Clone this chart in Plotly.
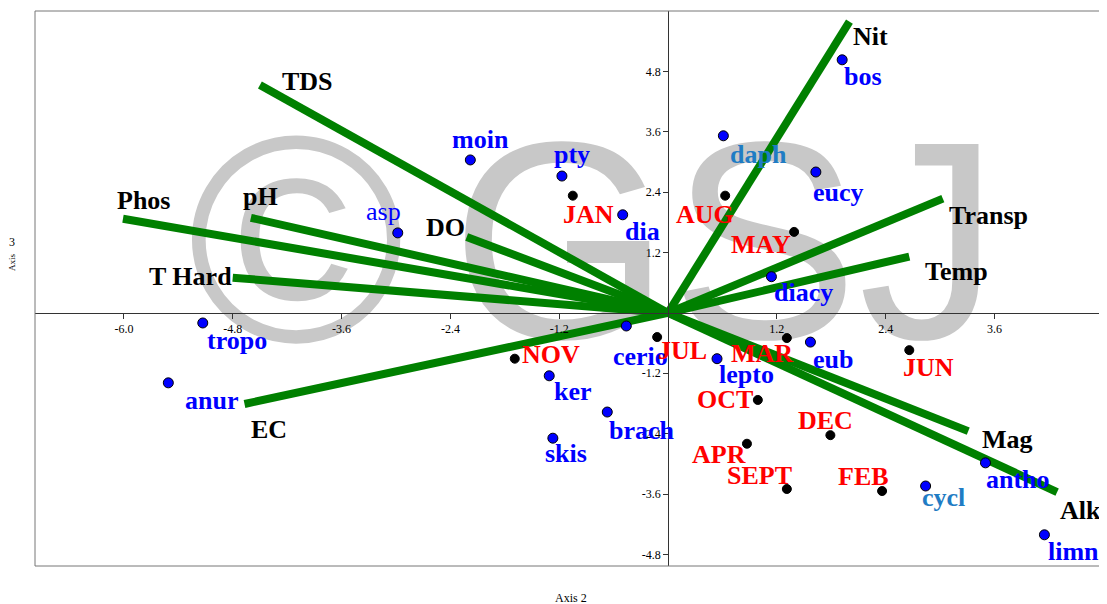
import plotly.graph_objects as go

# ---------------- data ----------------
species = ["tropo", "anur", "asp", "moin", "pty", "dia", "cerio", "ker", "brach", "skis",
           "lepto", "eub", "daph", "bos", "eucy", "diacy", "antho", "cycl", "limno"]
species_x = [-5.13, -5.51, -2.98, -2.18, -1.17, -0.50, -0.46, -1.31, -0.67, -1.27,
             0.54, 1.57, 0.61, 1.92, 1.63, 1.14, 3.50, 2.84, 4.15]
species_y = [-0.20, -1.39, 1.59, 3.04, 2.72, 1.95, -0.26, -1.25, -1.97, -2.49,
             -0.91, -0.58, 3.52, 5.03, 2.80, 0.72, -2.98, -3.44, -4.41]

sites = ["JAN", "AUG", "MAY", "NOV", "JUL", "MAR", "JUN", "OCT", "DEC", "APR", "SEPT", "FEB"]
sites_x = [-1.05, 0.63, 1.39, -1.69, -0.12, 1.31, 2.66, 0.99, 1.79, 0.87, 1.31, 2.36]
sites_y = [2.33, 2.33, 1.61, -0.91, -0.48, -0.50, -0.74, -1.73, -2.43, -2.60, -3.50, -3.54]

env_vars = ["Nit", "TDS", "Phos", "pH", "T Hard", "DO", "EC", "Transp", "Temp", "Mag", "Alk"]
env_x = [2.00, -4.50, -6.01, -4.60, -4.80, -2.22, -4.67, 3.03, 2.66, 3.31, 4.29]
env_y = [5.79, 4.53, 1.87, 1.89, 0.70, 1.51, -1.81, 2.27, 1.12, -2.35, -3.56]

x_ticks = [-6.0, -4.8, -3.6, -2.4, -1.2, 1.2, 2.4, 3.6]
y_ticks = [-4.8, -3.6, -2.4, -1.2, 1.2, 2.4, 3.6, 4.8]

# ---------------- styling / layout (label offsets in screen px: dx right, dy down) ----------------
species_offsets = {
    "tropo": (34, 18), "anur": (43, 18), "asp": (-14, -21), "moin": (10, -20), "pty": (10, -22),
    "dia": (20, 17), "cerio": (14, 31), "ker": (24, 16), "brach": (35, 18), "skis": (13, 15),
    "lepto": (29, 16), "eub": (23, 17), "daph": (35, 19), "bos": (21, 17), "eucy": (23, 20),
    "diacy": (32, 16), "antho": (33, 17), "cycl": (18, 11), "limno": (36, 17),
}
species_colors = {"daph": "#1f7cc4", "cycl": "#1f7cc4"}
species_normal_weight = {"asp"}
site_offsets = {
    "JAN": (16, 19), "AUG": (-20, 19), "MAY": (-33, 13), "NOV": (36, -4), "JUL": (25, 13),
    "MAR": (-25, 15), "JUN": (19, 17), "OCT": (-33, 0), "DEC": (-5, -15), "APR": (-28, 11),
    "SEPT": (-27, -14), "FEB": (-19, -15),
}
env_offsets = {
    "Nit": (21, 15), "TDS": (48, -3), "Phos": (21, -18), "pH": (10, -21), "T Hard": (-42, -1),
    "DO": (-21, -9), "EC": (24, 26), "Transp": (46, 17), "Temp": (47, 15), "Mag": (39, 8),
    "Alk": (23, 18),
}

XR = [-6.98, 4.84]
YR = [-5.03, 6.0]
SERIF = "Liberation Serif, Times New Roman, serif"
SANS = "Liberation Sans, Arial, sans-serif"
LBL = 26
WM = "#c8c8c8"

fig = go.Figure()

# watermark (behind everything)
fig.add_trace(go.Scatter(
    x=[-4.10, 0.63], y=[0.9, 0.9], mode="text", text=["©", "GSJ"], textposition="middle center",
    textfont=dict(family=SANS, size=[295, 282], color=WM),
    hoverinfo="skip", showlegend=False))

# environmental vectors
vx, vy = [], []
for ex, ey in zip(env_x, env_y):
    vx += [0, ex, None]
    vy += [0, ey, None]
fig.add_trace(go.Scatter(x=vx, y=vy, mode="lines", line=dict(color="#008000", width=8),
                         hoverinfo="skip", showlegend=False))

# sites
fig.add_trace(go.Scatter(x=sites_x, y=sites_y, mode="markers",
                         marker=dict(color="black", size=9, line=dict(color="black", width=1)),
                         showlegend=False))
# species
fig.add_trace(go.Scatter(x=species_x, y=species_y, mode="markers",
                         marker=dict(color="#0000ff", size=10, line=dict(color="black", width=1)),
                         showlegend=False))

ann = []
for n, x, y in zip(species, species_x, species_y):
    dx, dy = species_offsets[n]
    txt = n if n in species_normal_weight else f"<b>{n}</b>"
    ann.append(dict(x=x, y=y, xref="x", yref="y", text=txt, showarrow=False,
                    xshift=dx, yshift=-dy, xanchor="center", yanchor="middle",
                    font=dict(family=SERIF, size=LBL, color=species_colors.get(n, "#0000ff"))))
for n, x, y in zip(sites, sites_x, sites_y):
    dx, dy = site_offsets[n]
    ann.append(dict(x=x, y=y, xref="x", yref="y", text=f"<b>{n}</b>", showarrow=False,
                    xshift=dx, yshift=-dy, xanchor="center", yanchor="middle",
                    font=dict(family=SERIF, size=LBL, color="#ff0000")))
for n, x, y in zip(env_vars, env_x, env_y):
    dx, dy = env_offsets[n]
    ann.append(dict(x=x, y=y, xref="x", yref="y", text=f"<b>{n}</b>", showarrow=False,
                    xshift=dx, yshift=-dy, xanchor="center", yanchor="middle",
                    font=dict(family=SERIF, size=LBL, color="black")))

# axis titles
ann.append(dict(x=0.5, y=0, xref="paper", yref="paper", yshift=-32, text="Axis 2", showarrow=False,
                xanchor="center", yanchor="middle", font=dict(family=SERIF, size=12, color="black")))
ann.append(dict(x=0, y=0.6, xref="paper", yref="paper", xshift=-23, yshift=-9, text="3", showarrow=False,
                xanchor="center", yanchor="middle", font=dict(family=SERIF, size=12, color="black")))
ann.append(dict(x=0, y=0.6, xref="paper", yref="paper", xshift=-23, yshift=-29, text="Axis", showarrow=False,
                textangle=-90, xanchor="center", yanchor="middle",
                font=dict(family=SERIF, size=9, color="black")))

ypos = (0 - YR[0]) / (YR[1] - YR[0])
xpos = (0 - XR[0]) / (XR[1] - XR[0])

fig.update_layout(
    width=1099, height=596,
    margin=dict(l=27, r=0, t=3, b=38),
    paper_bgcolor="white", plot_bgcolor="white",
    showlegend=False,
    annotations=ann,
    xaxis=dict(range=XR, showgrid=False, zeroline=False, anchor="free", position=ypos,
               showline=True, linecolor="#333333", linewidth=1,
               tickvals=x_ticks, ticktext=[f"{v:.1f}" for v in x_ticks],
               ticks="outside", ticklen=5, tickcolor="#333333",
               tickfont=dict(family=SERIF, size=12, color="black")),
    yaxis=dict(range=YR, showgrid=False, zeroline=False, anchor="free", position=xpos,
               showline=True, linecolor="#333333", linewidth=1,
               tickvals=y_ticks, ticktext=[f"{v:.1f}" for v in y_ticks],
               ticks="outside", ticklen=5, tickcolor="#333333",
               tickfont=dict(family=SERIF, size=12, color="black")),
    shapes=[
        dict(type="line", xref="paper", yref="paper", x0=0, x1=1, y0=1, y1=1,
             line=dict(color="#777777", width=1)),
        dict(type="line", xref="paper", yref="paper", x0=0, x1=1, y0=0, y1=0,
             line=dict(color="#777777", width=1)),
        dict(type="line", xref="paper", yref="paper", x0=0, x1=0, y0=0, y1=1,
             line=dict(color="#777777", width=1)),
    ],
)

fig.write_html("out.html")
